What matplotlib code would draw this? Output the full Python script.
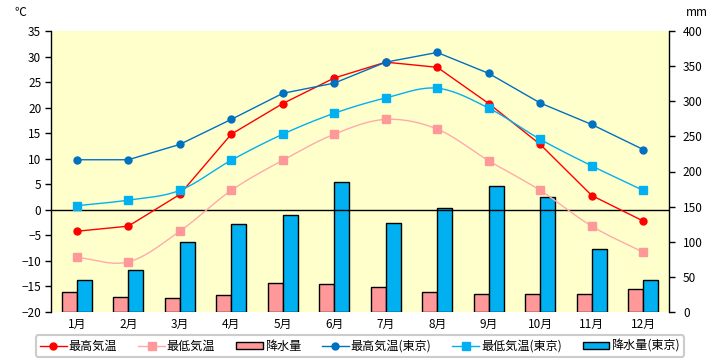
import numpy as np
import matplotlib
matplotlib.use("Agg")
import matplotlib.pyplot as plt
from matplotlib.lines import Line2D
from matplotlib.patches import Patch

plt.rcParams['font.family'] = ['Noto Sans CJK JP', 'DejaVu Sans']

# データ
months = ["1月", "2月", "3月", "4月", "5月", "6月",
          "7月", "8月", "9月", "10月", "11月", "12月"]
max_temp = [-4.2, -3.2, 3.0, 14.8, 20.8, 25.8, 28.9, 27.9, 20.8, 12.8, 2.8, -2.2]
min_temp = [-9.3, -10.2, -4.2, 3.8, 9.7, 14.8, 17.7, 15.8, 9.6, 3.8, -3.2, -8.3]
precip = [28, 22, 19.5, 24, 41, 39.5, 35, 28, 25, 25, 25, 33]
max_tokyo = [9.8, 9.8, 12.8, 17.7, 22.8, 24.8, 28.9, 30.8, 26.7, 20.9, 16.7, 11.8]
min_tokyo = [0.8, 1.9, 3.8, 9.7, 14.8, 18.9, 21.9, 23.8, 19.9, 13.8, 8.6, 3.8]
precip_tokyo = [45, 60, 100, 125, 138, 185, 127, 148, 180, 164, 89, 45]

RED = "#FF0000"
PINK = "#FF9999"
DBLUE = "#0070C0"
LBLUE = "#00B0F0"


def smooth(xs, ys, n=20):
    # Catmull-Rom っぽい平滑線 (Excel の「スムージング」風)
    xs = np.asarray(xs, float)
    ys = np.asarray(ys, float)
    px = np.concatenate([[2 * xs[0] - xs[1]], xs, [2 * xs[-1] - xs[-2]]])
    py = np.concatenate([[2 * ys[0] - ys[1]], ys, [2 * ys[-1] - ys[-2]]])
    outx, outy = [], []
    t = np.linspace(0, 1, n)
    for i in range(1, len(px) - 2):
        for p, out in ((px, outx), (py, outy)):
            p0, p1, p2, p3 = p[i - 1], p[i], p[i + 1], p[i + 2]
            v = 0.5 * ((2 * p1) + (-p0 + p2) * t
                       + (2 * p0 - 5 * p1 + 4 * p2 - p3) * t**2
                       + (-p0 + 3 * p1 - 3 * p2 + p3) * t**3)
            out.extend(v)
    return outx, outy


fig = plt.figure(figsize=(7.2, 3.6), dpi=100)
ax = fig.add_axes([51 / 720, 1 - 312 / 360, 618 / 720, 281 / 360])
ax.set_facecolor("#FFFFCC")
axt = ax.twinx()

x = np.arange(len(months))
w = 0.29

# 降水量 (右軸)
ax.bar(x - w / 2, precip, w, color=PINK, edgecolor="black", linewidth=1, zorder=2)
ax.bar(x + w / 2, precip_tokyo, w, color=LBLUE, edgecolor="black", linewidth=1, zorder=2)
ax.set_ylim(0, 400)
ax.set_yticks(range(0, 401, 50))
ax.yaxis.tick_right()

# 気温 (左軸)
axt.axhline(0, color="black", lw=1, zorder=1)
axt.plot(x, max_temp, color=RED, lw=1, marker="o", ms=5, zorder=3)
sx, sy = smooth(x, min_temp)
axt.plot(sx, sy, color="#FFAAAA", lw=1, zorder=3)
axt.plot(x, min_temp, ls="none", color=PINK, marker="s", ms=5.5, zorder=3)
axt.plot(x, max_tokyo, color=DBLUE, lw=1, marker="o", ms=5, zorder=3)
sx, sy = smooth(x, min_tokyo)
axt.plot(sx, sy, color=LBLUE, lw=1, zorder=3)
axt.plot(x, min_tokyo, ls="none", color=LBLUE, marker="s", ms=5.5, zorder=3)
axt.set_ylim(-20, 35)
axt.set_yticks(range(-20, 36, 5))
axt.yaxis.tick_left()

ax.set_xlim(-0.5, 11.5)
ax.set_xticks(x)
ax.set_xticklabels(months)
ax.tick_params(axis="x", length=0, pad=4, labelsize=8.5)
ax.tick_params(axis="y", length=4, width=1, labelsize=8.5, pad=6)
axt.tick_params(axis="y", length=4, width=1, labelsize=8.5, pad=3)

for a in (ax, axt):
    for s in ("top", "bottom", "left", "right"):
        a.spines[s].set_visible(False)
ax.spines["right"].set_visible(True)
axt.spines["left"].set_visible(True)
ax.spines["right"].set_linewidth(1)
axt.spines["left"].set_linewidth(1)

fig.text(14 / 720, 1 - 13 / 360, "℃", fontsize=8.5, va="center", ha="left")
fig.text(686 / 720, 1 - 12 / 360, "mm", fontsize=8.5, va="center", ha="left")

handles = [
    Line2D([], [], color=RED, lw=1, marker="o", ms=5),
    Line2D([], [], color="#FFAAAA", lw=1, marker="s", ms=6, mfc=PINK, mec=PINK),
    Patch(facecolor=PINK, edgecolor="black", linewidth=1),
    Line2D([], [], color=DBLUE, lw=1, marker="o", ms=5),
    Line2D([], [], color=LBLUE, lw=1, marker="s", ms=6),
    Patch(facecolor=LBLUE, edgecolor="black", linewidth=1),
]
labels = ["最高気温", "最低気温", "降水量", "最高気温(東京)", "最低気温(東京)", "降水量(東京)"]
leg = fig.legend(handles, labels, ncol=6, loc="center",
                 bbox_to_anchor=(360 / 720, 1 - 346 / 360),
                 fontsize=8.7, handlelength=2.2, handleheight=0.5,
                 handletextpad=0.15, columnspacing=1.75,
                 frameon=True, fancybox=True, borderpad=0.35)
leg.get_frame().set_edgecolor("#C0C0C0")
leg.get_frame().set_linewidth(1.5)

fig.savefig("out.png", dpi=100)
